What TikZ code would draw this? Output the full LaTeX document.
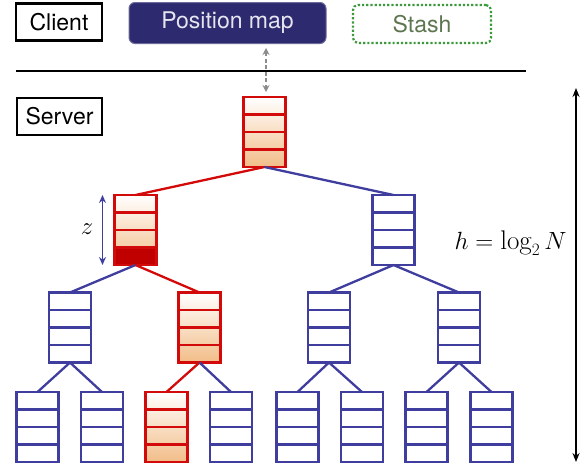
\documentclass[tikz,border=0pt]{standalone}
\usepackage{fontspec}
\setsansfont{TeX Gyre Heros}
\usetikzlibrary{arrows.meta,calc}
\definecolor{treeblue}{HTML}{3F3D9E}
\definecolor{pathred}{HTML}{D20A0A}
\definecolor{darkslot}{HTML}{C00000}
\definecolor{peach}{HTML}{F2BD88}
\definecolor{mapnavy}{HTML}{2D2A70}
\definecolor{stashgreen}{HTML}{3C9A3C}
\definecolor{stashtext}{HTML}{5E7650}
\definecolor{linkgray}{HTML}{8C8C8C}
\begin{document}
\begin{tikzpicture}[x=1pt,y=-1pt,
  labelbox/.style={draw=black, line width=2.4pt, font=\sffamily\fontsize{23}{23}\selectfont,
    minimum height=37pt, inner xsep=5pt, inner ysep=0pt},
  bucket/.style={draw=#1, line width=2.6pt, minimum width=42pt, minimum height=70pt,
    inner sep=0pt, outer sep=0pt,
    path picture={\foreach \k in {1,2,3}{\draw[#1, line width=2.6pt]
      ($(path picture bounding box.north west)!\k/4!(path picture bounding box.south west)$) --
      ($(path picture bounding box.north east)!\k/4!(path picture bounding box.south east)$);}}},
  bluebucket/.style={bucket=treeblue, fill=white},
  redbucket/.style={bucket=pathred, top color=white, bottom color=peach},
  blueedge/.style={treeblue, line width=2.3pt},
  rededge/.style={pathred, line width=2.3pt},
]
\useasboundingbox (0,0) rectangle (585,469);

% client side
\node[labelbox, minimum width=86pt] (client) at (59,22) {Client};
\node[fill=mapnavy, draw=mapnavy!70!white, line width=1pt, rounded corners=6pt,
      minimum width=197pt, minimum height=41pt, text=white!88!mapnavy,
      font=\sffamily\fontsize{23}{23}\selectfont] (posmap) at (227.5,23) {Position map};
\node[draw=stashgreen, dotted, line width=2.2pt, rounded corners=5pt,
      minimum width=138pt, minimum height=38pt, text=stashtext,
      font=\sffamily\fontsize{23}{23}\selectfont] (stash) at (422,24) {Stash};

% client / server divide
\coordinate (divl) at (16,71);
\coordinate (divr) at (526,71);
\draw[black, line width=2.4pt] (divl) -- (divr);

\node[labelbox, minimum width=85pt] (server) at (59.5,116.5) {Server};

% tree of buckets
\node[redbucket]  (r)   at (264.5,132) {};
\node[redbucket]  (a)   at (135.5,230) {};
\node[bluebucket] (b)   at (393.5,230) {};
\node[bluebucket] (aa)  at (70,327.5) {};
\node[redbucket]  (ab)  at (199.5,327.5) {};
\node[bluebucket] (ba)  at (329,327.5) {};
\node[bluebucket] (bb)  at (459,327.5) {};
\node[bluebucket] (aaa) at (37.5,427) {};
\node[bluebucket] (aab) at (102,427) {};
\node[redbucket]  (aba) at (166.5,427) {};
\node[bluebucket] (abb) at (231,427) {};
\node[bluebucket] (baa) at (297.5,427) {};
\node[bluebucket] (bab) at (362,427) {};
\node[bluebucket] (bba) at (426.5,427) {};
\node[bluebucket] (bbb) at (491.5,427) {};

% evicted slot at the bottom of the left child
\filldraw[fill=darkslot, draw=pathred, line width=2.6pt]
  ($(a.south west)!0.25!(a.north west)$) rectangle (a.south east);

% edges
\draw[rededge]  (r.south) -- (a.north);
\draw[blueedge] (r.south) -- (b.north);
\draw[blueedge] (a.south) -- (aa.north);
\draw[rededge]  (a.south) -- (ab.north);
\draw[blueedge] (b.south) -- (ba.north);
\draw[blueedge] (b.south) -- (bb.north);
\draw[blueedge] (aa.south) -- (aaa.north);
\draw[blueedge] (aa.south) -- (aab.north);
\draw[rededge]  (ab.south) -- (aba.north);
\draw[blueedge] (ab.south) -- (abb.north);
\draw[blueedge] (ba.south) -- (baa.north);
\draw[blueedge] (ba.south) -- (bab.north);
\draw[blueedge] (bb.south) -- (bba.north);
\draw[blueedge] (bb.south) -- (bbb.north);

% position map <-> root
\draw[linkgray, line width=2pt, dash pattern=on 4pt off 2.5pt,
      {Stealth[length=7pt,width=7pt]}-{Stealth[length=7pt,width=7pt]}]
  ($(posmap.south -| r.north)+(1.5,4)$) -- ($(r.north)+(1.5,-5)$);

% bucket size z
\draw[treeblue, line width=1.8pt, {Stealth[length=8pt,width=7pt]}-{Stealth[length=8pt,width=7pt]}]
  ([xshift=-12pt]a.north west) -- ([xshift=-12pt]a.south west);
\node[font=\fontsize{27}{27}\selectfont] (zlab) at (87,229) {$z$};

% tree height
\coordinate (htop) at (576,88);
\coordinate (hbot) at (576,462);
\draw[black, line width=1.8pt, {Stealth[length=9pt,width=7pt]}-{Stealth[length=9pt,width=7pt]}]
  (htop) -- (hbot);
\node[font=\fontsize{27}{27}\selectfont, anchor=east] (hlab) at (570,243) {$h=\log_2 N$};
\end{tikzpicture}
\end{document}
